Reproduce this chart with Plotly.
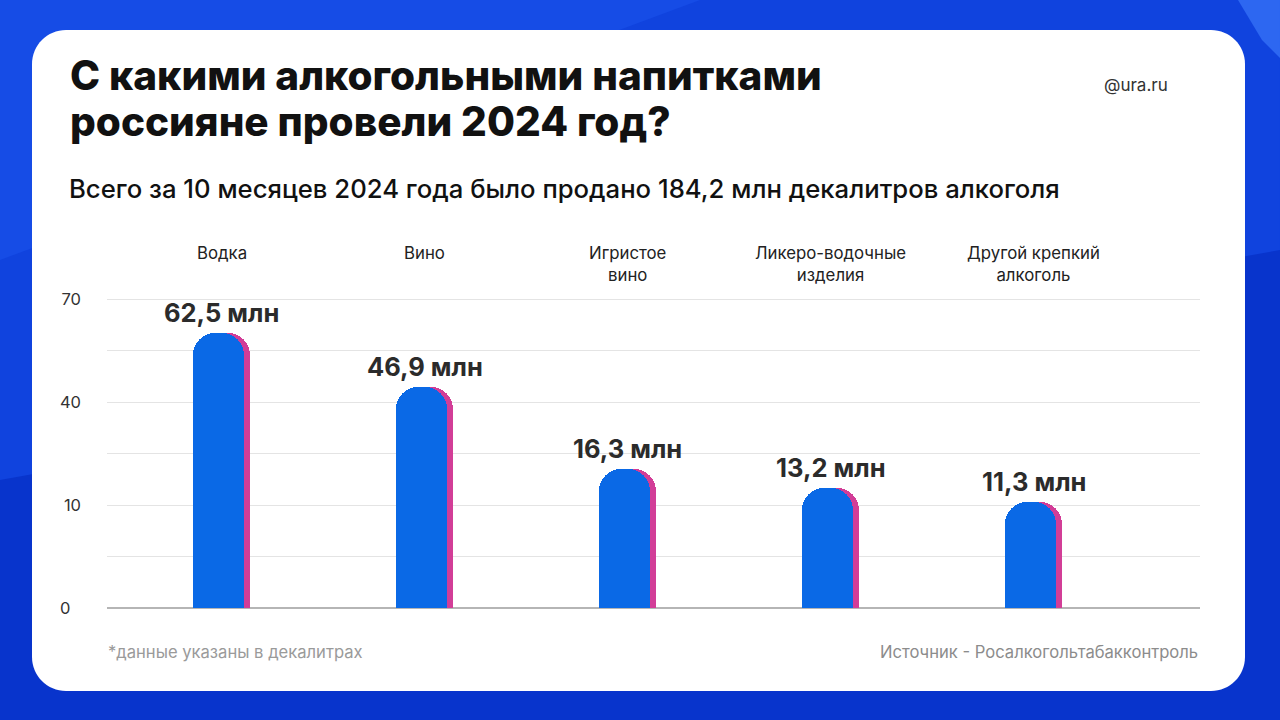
import plotly.graph_objects as go

# ---------------- data ----------------
categories = ["Водка", "Вино", "Игристое вино", "Ликеро-водочные изделия", "Другой крепкий алкоголь"]
category_labels = ["Водка", "Вино", "Игристое<br>вино", "Ликеро-водочные<br>изделия", "Другой крепкий<br>алкоголь"]
volumes_mln = [62.5, 46.9, 16.3, 13.2, 11.3]          # value labels (млн декалитров)
bar_axis_values = [60.1, 44.5, 20.5, 15.0, 11.0]        # bar tops as read against the chart's axis
axis_tick_values = [0, 10, 40, 70]
axis_tick_labels = ["0\u2007", "10", "40", "70"]

title_lines = ["С какими алкогольными напитками", "россияне провели 2024 год?"]
subtitle_text = "Всего за 10 месяцев 2024 года было продано 184,2 млн декалитров алкоголя"
footnote_text = "*данные указаны в декалитрах"
source_text = "Источник - Росалкогольтабакконтроль"
brand_text = "@ura.ru"

# ---------------- layout geometry ----------------
W, H = 1280, 720
L, R, T, B = 107, 80, 298, 112
PW, PH = W - L - R, H - T - B


def px2x(px):
    return (px - L) / PW


def py2y(py):
    return (H - B - py) / PH


# the chart's axis is piecewise linear: equal spacing between 0, 10, 40, 70
def axis_pos(v):
    for i in range(len(axis_tick_values) - 1):
        a, b = axis_tick_values[i], axis_tick_values[i + 1]
        if v <= b or i == len(axis_tick_values) - 2:
            return 2 * i + 2 * (v - a) / (b - a)


bar_pos = [axis_pos(v) for v in bar_axis_values]
major = [axis_pos(v) for v in axis_tick_values]
tickvals, ticktext = [], []
for i, m in enumerate(major):
    tickvals.append(m)
    ticktext.append(axis_tick_labels[i])
    if i < len(major) - 1:
        tickvals.append((m + major[i + 1]) / 2)
        ticktext.append("")

FONT = "Inter"
BLUE = "#0a69e6"
SHADOW = "#d23d97"
bw = 0.2512
shift = 0.0296

fig = go.Figure()
fig.add_trace(go.Bar(
    x=categories, y=bar_pos, width=bw, offset=-bw / 2 + shift,
    marker=dict(color=SHADOW, cornerradius=22, line=dict(width=0)),
    hoverinfo="skip", showlegend=False,
))
fig.add_trace(go.Bar(
    x=categories, y=bar_pos, width=bw, offset=-bw / 2,
    marker=dict(color=BLUE, cornerradius=22, line=dict(width=0)),
    customdata=volumes_mln, hovertemplate="%{x}: %{customdata} млн<extra></extra>",
    showlegend=False,
))

annotations = []
for i, (c, v, yp) in enumerate(zip(categories, volumes_mln, bar_pos)):
    annotations.append(dict(
        x=i + 0.015, xref="x", y=yp, yref="y", yanchor="bottom", yshift=3,
        text=f"{v:.1f}".replace(".", ",") + " млн", showarrow=False,
        font=dict(family=FONT, size=25.5, color="#2b2b2b", weight=700),
    ))
    annotations.append(dict(
        x=i + 0.015, xref="x", y=py2y(241), yref="paper", yanchor="top",
        text=category_labels[i], showarrow=False,
        font=dict(family=FONT, size=16.8, color="#222222"),
    ))

for j, line in enumerate(title_lines):
    annotations.append(dict(
        x=px2x(68), y=py2y(49 + 46 * j), xref="paper", yref="paper", xanchor="left", yanchor="top",
        align="left", text=line, showarrow=False,
        font=dict(family=FONT, size=40.5, color="#111111", weight=800)))

annotations += [
    dict(x=px2x(67), y=py2y(171), xref="paper", yref="paper", xanchor="left", yanchor="top",
         align="left", text=subtitle_text, showarrow=False,
         font=dict(family=FONT, size=25.7, color="#111111", weight=500)),
    dict(x=px2x(1170), y=py2y(85), xref="paper", yref="paper", xanchor="right", yanchor="middle",
         text=brand_text, showarrow=False, font=dict(family=FONT, size=17, color="#333333")),
    dict(x=px2x(106), y=py2y(652), xref="paper", yref="paper", xanchor="left", yanchor="middle",
         text=footnote_text, showarrow=False, font=dict(family=FONT, size=16.6, color="#9a9a9a")),
    dict(x=px2x(1200), y=py2y(652), xref="paper", yref="paper", xanchor="right", yanchor="middle",
         text=source_text, showarrow=False, font=dict(family=FONT, size=16.6, color="#8c8c8c")),
]

# white rounded card
x0, y0, x1, y1, r = 32, 30, 1245, 691, 34
k = r * 0.5523


def P(px, py):
    return f"{px2x(px):.5f},{py2y(py):.5f}"


card_path = (
    f"M {P(x0 + r, y0)} L {P(x1 - r, y0)} "
    f"C {P(x1 - r + k, y0)} {P(x1, y0 + r - k)} {P(x1, y0 + r)} "
    f"L {P(x1, y1 - r)} "
    f"C {P(x1, y1 - r + k)} {P(x1 - r + k, y1)} {P(x1 - r, y1)} "
    f"L {P(x0 + r, y1)} "
    f"C {P(x0 + r - k, y1)} {P(x0, y1 - r + k)} {P(x0, y1 - r)} "
    f"L {P(x0, y0 + r)} "
    f"C {P(x0, y0 + r - k)} {P(x0 + r - k, y0)} {P(x0 + r, y0)} Z"
)

shapes = [
    dict(type="path", xref="paper", yref="paper", layer="below",
         path=f"M {P(0, 0)} L {P(1280, 0)} L {P(1280, 250)} L {P(0, 480)} Z",
         fillcolor="#1043de", line=dict(width=0)),
    dict(type="path", xref="paper", yref="paper", layer="below",
         path=f"M {P(0, 0)} L {P(700, 0)} L {P(0, 260)} Z",
         fillcolor="#164ce6", line=dict(width=0)),
    dict(type="path", xref="paper", yref="paper", layer="below",
         path=f"M {P(1238, 0)} L {P(1280, 0)} L {P(1280, 58)} L {P(1262, 40)} Z",
         fillcolor="#2d67f1", line=dict(width=0)),
    dict(type="path", xref="paper", yref="paper", layer="below", path=card_path,
         fillcolor="#ffffff", line=dict(width=0)),
]

fig.update_layout(
    width=W, height=H,
    margin=dict(l=L, r=R, t=T, b=B, pad=0),
    paper_bgcolor="#0834cc", plot_bgcolor="rgba(0,0,0,0)",
    barmode="overlay", bargap=0,
    font=dict(family=FONT),
    xaxis=dict(range=[-0.551, 4.833], showticklabels=False, showgrid=False,
               zeroline=False, showline=False, ticks="", fixedrange=True),
    yaxis=dict(range=[0, 6.02], tickmode="array", tickvals=tickvals, ticktext=ticktext,
               showgrid=True, gridcolor="#e4e4e4", gridwidth=1,
               zeroline=True, zerolinecolor="#b5b5b5", zerolinewidth=2,
               showline=False, ticks="", ticklabelstandoff=25,
               tickfont=dict(family=FONT, size=16.5, color="#333333"), fixedrange=True),
    annotations=annotations,
    shapes=shapes,
    showlegend=False,
)

fig.write_html("out.html", config={"displayModeBar": False})
